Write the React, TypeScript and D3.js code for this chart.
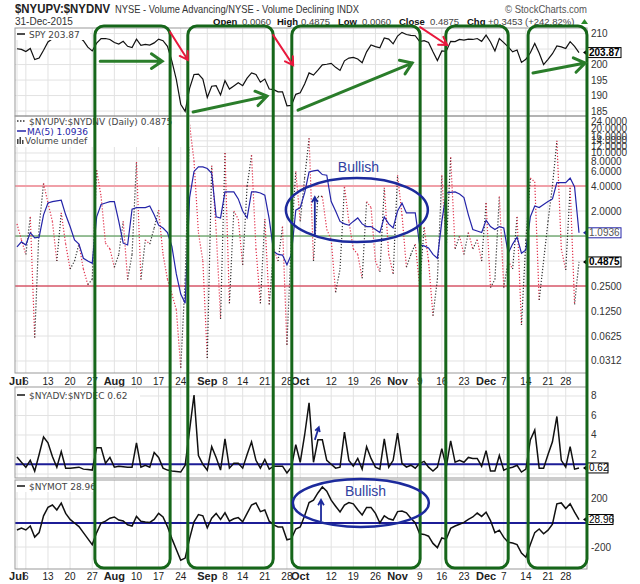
import React from "react";
import * as d3 from "d3";

// trading calendar (NYSE holidays in the window)
const holidays = ["2015-07-03", "2015-09-07", "2015-11-26", "2015-12-25"];
const fmt = d3.timeFormat("%Y-%m-%d");
const tradingDays = d3.timeDay
  .range(new Date(2015, 6, 1), new Date(2016, 0, 1))
  .filter((d) => d.getDay() !== 0 && d.getDay() !== 6 && !holidays.includes(fmt(d)))
  .map(fmt);

const tickDates = [
  "2015-07-01", "2015-07-06", "2015-07-13", "2015-07-20", "2015-07-27", "2015-08-03", "2015-08-10",
  "2015-08-17", "2015-08-24", "2015-09-01", "2015-09-08", "2015-09-14", "2015-09-21", "2015-09-28",
  "2015-10-01", "2015-10-12", "2015-10-19", "2015-10-26", "2015-11-02", "2015-11-09", "2015-11-16",
  "2015-11-23", "2015-12-01", "2015-12-07", "2015-12-14", "2015-12-21", "2015-12-28",
];
const tickLabels = [
  "Jul", "6", "13", "20", "27", "Aug", "10", "17", "24", "Sep", "8", "14", "21", "28",
  "Oct", "12", "19", "26", "Nov", "9", "16", "23", "Dec", "7", "14", "21", "28",
];
const monthLabels = ["Jul", "Aug", "Sep", "Oct", "Nov", "Dec"];

// SPY close
const spyClose = [
  205.1, 204.9, 204.2, 205.2, 201.6, 202.1, 204.6, 207.3, 208.3, 208.2,
  209.9, 210.1, 210.2, 209.3, 208.9, 207.7, 205.6, 204.4, 206.9, 208.4,
  208.4, 208.1, 207.1, 206.6, 207.5, 205.9, 205.5, 208.2, 206.2, 206.5,
  206.3, 207.0, 208.2, 207.7, 205.9, 201.1, 195.2, 187.2, 184.9, 192.3,
  196.8, 196.9, 195.3, 189.4, 193.0, 193.2, 190.2, 194.8, 192.1, 193.1,
  194.1, 193.2, 195.6, 197.3, 196.8, 194.3, 195.3, 192.1, 191.9, 191.2,
  191.2, 186.7, 186.8, 190.4, 190.9, 193.7, 197.3, 196.6, 198.2, 199.9,
  200.1, 200.4, 199.1, 198.1, 201.2, 202.1, 202.3, 201.8, 200.6, 204.1,
  206.3, 205.8, 205.4, 208.6, 208.2, 206.7, 209.2, 210.4, 209.7, 209.4,
  209.3, 207.4, 207.7, 207.1, 204.1, 201.3, 204.4, 204.3, 207.5, 207.4,
  208.1, 207.9, 208.2, 208.1, 208.4, 207.5, 209.5, 207.3, 204.4, 208.4,
  207.1, 205.7, 204.1, 204.7, 200.7, 201.7, 203.8, 206.8, 203.7, 200.0,
  201.7, 203.5, 206.0, 205.7, 205.2, 207.4, 205.9, 203.87,
];

// $NYUPV:$NYDNV daily
const upDownVol = [
  1.4, 0.9, 0.6, 1.7, 0.06, 1.3, 4.3, 2.5, 1.5, 0.5,
  1.9, 0.8, 0.4, 0.5, 0.8, 0.4, 0.26, 0.3, 6.2, 3.0,
  0.82, 0.7, 0.42, 0.6, 1.5, 0.3, 0.6, 7.8, 0.3, 0.9,
  0.8, 1.25, 2.05, 0.6, 0.3, 0.2, 0.13, 0.026, 0.3, 22,
  8, 1.1, 0.5, 0.034, 7, 1.2, 0.1, 10, 0.155, 2,
  1.6, 0.45, 4, 9.4, 0.7, 0.155, 1.6, 0.15, 0.7, 0.5,
  1.3, 0.049, 0.9, 6, 1.5, 5, 15, 0.5, 3, 3,
  1.2, 0.9, 0.21, 0.4, 3.9, 1.5, 0.7, 0.6, 0.31, 2.6,
  2.2, 0.5, 0.37, 3.8, 0.6, 0.35, 5.4, 1.8, 0.42, 0.6,
  0.8, 0.25, 1.28, 0.5, 0.11, 0.3, 5.4, 0.7, 8.9, 0.7,
  1.0, 0.6, 1.1, 0.7, 0.9, 0.5, 2.5, 0.24, 0.3, 3,
  0.24, 0.5, 0.4, 1.7, 0.085, 0.9, 5, 4.5, 0.17, 0.5,
  1.5, 4, 14, 0.7, 0.39, 3.8, 0.15, 0.4875,
];

// MA(5) of the ratio
const upDownMa5 = [
  0.74, 0.85, 0.78, 1.1, 0.95, 0.97, 1.8, 2.5, 2.6, 2.65,
  2.7, 1.8, 1.3, 0.9, 0.8, 0.54, 0.5, 0.47, 1.7, 2.4,
  2.5, 2.6, 2.6, 1.5, 0.82, 0.78, 2.1, 2.2, 2.2, 2.2,
  2.3, 1.8, 1.35, 1.25, 1.1, 0.75, 0.35, 0.2, 0.155, 2.9,
  6, 6.8, 6.8, 6.5, 5.7, 1.7, 1.65, 3.4, 3.4, 3.4,
  2.8, 2.0, 1.65, 3.4, 3.4, 3.3, 3.1, 1.6, 0.65, 0.6,
  0.59, 0.45, 0.6, 2.05, 2.2, 3.3, 5.9, 6.1, 6.2, 5.5,
  5.4, 2.6, 2.0, 1.5, 1.4, 1.35, 1.5, 1.65, 1.4, 1.3,
  1.3, 1.2, 1.1, 1.7, 1.4, 1.25, 2.0, 2.5, 1.9, 1.9,
  1.9, 0.78, 0.76, 0.72, 0.6, 0.54, 1.5, 3.3, 3.35, 3.4,
  3.2, 2.9, 1.8, 1.2, 1.15, 1.1, 1.55, 1.3, 1.2, 1.3,
  1.25, 0.62, 0.8, 0.97, 0.62, 0.68, 1.7, 2.3, 2.2, 2.4,
  2.6, 2.8, 4.4, 4.4, 4.4, 5, 3.9, 1.0936,
];

// $NYADV:$NYDEC
const advDec = [
  1.74, 1.2, 0.7, 1.4, 0.3, 2.0, 3.8, 3.2, 1.8, 0.7,
  2.3, 0.6, 0.6, 0.65, 0.7, 0.5, 0.45, 0.4, 2.7, 2.7,
  1.1, 1.7, 0.7, 0.8, 0.75, 0.7, 0.7, 3.2, 0.7, 0.9,
  0.7, 2.2, 1.7, 0.6, 0.4, 0.3, 0.25, 0.2, 0.9, 4.5,
  8.1, 1.9, 1.0, 0.4, 2.8, 1.7, 0.4, 3.6, 0.6, 1.1,
  1.1, 0.6, 2.0, 3.3, 1.4, 0.6, 1.5, 0.5, 0.8, 0.8,
  0.8, 0.1, 0.7, 3.0, 1.2, 4.0, 7.3, 1.2, 3.5, 3.5,
  1.4, 1.0, 0.6, 0.7, 4.3, 1.4, 0.8, 1.6, 0.5, 2.8,
  1.6, 0.7, 0.5, 3.6, 0.7, 1.4, 4.2, 1.1, 0.7, 0.9,
  0.6, 1.1, 1.3, 0.7, 0.3, 0.7, 2.6, 0.7, 3.4, 1.2,
  1.4, 1.2, 1.7, 1.6, 1.6, 0.8, 2.4, 0.3, 0.3, 1.9,
  0.4, 0.6, 0.7, 0.9, 0.2, 0.5, 3.5, 4.5, 0.6, 0.6,
  2.0, 3.3, 5.9, 1.4, 0.7, 2.8, 0.5, 0.62,
];

// $NYMOT
const mcOsc = [
  -58, -42, -58, -25, -117, -80, 60, 130, 150, 108,
  165, 80, 30, 0, -30, -80, -130, -180, -80, 0,
  15, 40, 50, 25, 17, -15, -25, 55, 15, 8,
  5, 30, 80, 50, -30, -130, -220, -310, -292, -130,
  10, 70, 60, -40, 40, 80, 30, 85, 15, 35,
  45, 10, 80, 150, 167, 95, 108, 15, -15, -33,
  -33, -140, -130, -50, -33, 60, 170, 190, 250, 300,
  265, 190, 140, 92, 150, 170, 160, 110, 67, 130,
  130, 80, 0, 60, 35, 25, 95, 100, 85, 40,
  0, -90, -95, -110, -170, -205, -125, -135, -45, -25,
  -10, 5, 30, 50, 83, 55, 90, 20, -80, -60,
  -120, -160, -167, -180, -250, -285, -180, -80, -50, -90,
  -60, -10, 160, 167, 120, 160, 90, 28.96,
];

// right-axis ticks (the ones not hidden behind the value boxes)
const spyTicks = [185, 190, 195, 200, 210];
const spyGrid = [185, 190, 195, 200, 205, 210];
const ratioTicks = [24, 20, 16, 14, 12, 10, 8, 6, 4, 2, 0.25, 0.125, 0.0625, 0.03125];
const ratioTickLabels = ["24.0000", "20.0000", "16.0000", "14.0000", "12.0000", "10.0000", "8.0000", "6.0000",
  "4.0000", "2.0000", "0.2500", "0.1250", "0.0625", "0.0312"];
const ratioGrid = [24, 20, 16, 14, 12, 10, 8, 6, 4, 2, 1, 0.5, 0.25, 0.125, 0.0625, 0.03125];
const advTicks = [2, 4, 6, 8];
const advGrid = [0, 2, 4, 6, 8];
const motTicks = [-200, 200];
const motGrid = [-200, 0, 200];

// annotations (date index / value space)
const boxSpans = [[17.6, 34.6], [38.6, 57.9], [62.1, 91.1], [96.9, 111], [115.5, 128.8]];
const greenArrows = [
  [[18.8, 201.1], [32.8, 201.1]],
  [[39.8, 184.7], [56.5, 189.8]],
  [[63.5, 185.3], [89.3, 200.5]],
  [[116.6, 197.3], [128.4, 200.5]],
];
const redArrows = [
  [[34.6, 210.5], [38.6, 201.5]],
  [[57.9, 209.5], [62.4, 199.8]],
  [[91.1, 212.1], [97.2, 206.3]],
];

const L = 15, R = 587;
const P1 = [28, 116], P2 = [116, 373], P3 = [387, 478], P4 = [480, 569];

function arrow(x1: number, y1: number, x2: number, y2: number, len: number, ang = 0.5) {
  const a = Math.atan2(y2 - y1, x2 - x1);
  const h1 = [x2 - len * Math.cos(a - ang), y2 - len * Math.sin(a - ang)];
  const h2 = [x2 - len * Math.cos(a + ang), y2 - len * Math.sin(a + ang)];
  return `M${x1},${y1}L${x2},${y2}M${h1[0]},${h1[1]}L${x2},${y2}L${h2[0]},${h2[1]}`;
}

export default function App() {
  const x = d3.scaleLinear().domain([0, tradingDays.length - 1]).range([17, 579]);
  const ySpy = d3.scaleLinear().domain([183.4, 211.8]).range([P1[1], P1[0]]);
  const yRatio = d3.scaleLog().base(2).domain([0.0224, 27.9]).range([P2[1], P2[0]]);
  const yAdv = d3.scaleLinear().domain([-0.41, 8.92]).range([P3[1], P3[0]]);
  const yMot = d3.scaleLinear().domain([-383, 358]).range([P4[1], P4[0]]);

  const lineOf = (ys: (v: number) => number) =>
    d3.line<number>().x((_, i) => x(i)).y((v) => ys(v));

  const tickX = tickDates.map((d) => x(tradingDays.indexOf(d)));
  const labelFont = "Liberation Sans, Arial, sans-serif";
  const legendFont = "DejaVu Sans, Verdana, sans-serif";

  const ratioSegs = upDownVol.slice(1).map((v, k) => ({
    x1: x(k), y1: yRatio(upDownVol[k]), x2: x(k + 1), y2: yRatio(v),
    up: v >= upDownVol[k],
  }));

  const panels = [P1, P2, P3, P4];

  const valueBox = (y: number, text: string, color: string, bold: boolean, w: number) => (
    <g key={text}>
      <path d={`M${R - 4},${y}L${R},${y - 3}L${R},${y + 3}Z`} fill={color} />
      <rect x={R} y={y - 5} width={w} height={10} fill="#fff" stroke={color} strokeWidth={1} />
      <text x={R + 2} y={y + 3.5} fontSize={10} fontWeight={bold ? "bold" : "normal"}
        fill={bold ? "#000" : color === "#000" ? "#000" : "#555"} fontFamily={labelFont}>{text}</text>
    </g>
  );

  const dateAxis = (yBase: number, key: string) => (
    <g key={key} fontFamily={labelFont} fontSize={10} fill="#222" textAnchor="middle">
      {tickLabels.map((t, i) => (
        <text key={i} x={tickX[i]} y={yBase} fontWeight={monthLabels.includes(t) ? "bold" : "normal"}
          fontSize={monthLabels.includes(t) ? 11 : 10}>{t}</text>
      ))}
    </g>
  );

  const header = [
    { t: "Open", x: 213, b: true }, { t: "0.0060", x: 242, b: false },
    { t: "High", x: 277, b: true }, { t: "0.4875", x: 301, b: false },
    { t: "Low", x: 338, b: true }, { t: "0.0060", x: 362, b: false },
    { t: "Close", x: 399, b: true }, { t: "0.4875", x: 430, b: false },
    { t: "Chg", x: 467, b: true }, { t: "+0.3453", x: 488, b: false },
    { t: "(+242.82%)", x: 525, b: false },
  ];

  return (
    <svg width={640} height={584} style={{ position: "absolute", left: 0, top: 0, background: "#fff" }}>
      <rect width={640} height={584} fill="#fff" />

      {/* header */}
      <text x={15} y={13} fontFamily={labelFont} fontSize={12} fontWeight="bold" fill="#222"
        textLength={95} lengthAdjust="spacingAndGlyphs">$NYUPV:$NYDNV</text>
      <text x={115} y={13} fontFamily={labelFont} fontSize={11} fill="#333"
        textLength={244} lengthAdjust="spacingAndGlyphs">NYSE - Volume Advancing/NYSE - Volume Declining INDX</text>
      <text x={505} y={13} fontFamily={labelFont} fontSize={11} fill="#555"
        textLength={82} lengthAdjust="spacingAndGlyphs">© StockCharts.com</text>
      <text x={15} y={25} fontFamily={labelFont} fontSize={10} fill="#333">31-Dec-2015</text>
      <g fontFamily={labelFont} fontSize={9.5} fill="#333">
        {header.map((h, i) => (
          <text key={i} x={h.x} y={25} fontWeight={h.b ? "bold" : "normal"} fill={h.b ? "#111" : "#444"}>{h.t}</text>
        ))}
      </g>
      <path d="M581,24L584.5,19L588,24Z" fill="#2a8a2a" />

      {/* panel backgrounds + grids */}
      {panels.map((p, i) => (
        <rect key={i} x={L} y={p[0]} width={R - L} height={p[1] - p[0]} fill="#fff" />
      ))}
      <g stroke="#e2e2e2" strokeWidth={1}>
        {panels.map((p, pi) => tickX.map((tx, i) => (
          <line key={`${pi}-${i}`} x1={tx} x2={tx} y1={p[0]} y2={p[1]} />
        )))}
        {spyGrid.map((t) => <line key={`s${t}`} x1={L} x2={R} y1={ySpy(t)} y2={ySpy(t)} />)}
        {ratioGrid.map((t) => <line key={`r${t}`} x1={L} x2={R} y1={yRatio(t)} y2={yRatio(t)} />)}
        {advGrid.map((t) => <line key={`a${t}`} x1={L} x2={R} y1={yAdv(t)} y2={yAdv(t)} />)}
        {motGrid.map((t) => <line key={`m${t}`} x1={L} x2={R} y1={yMot(t)} y2={yMot(t)} />)}
      </g>

      {/* reference lines */}
      <line x1={L} x2={R} y1={yRatio(4)} y2={yRatio(4)} stroke="#f0a0a8" strokeWidth={2} />
      <line x1={L} x2={R} y1={yRatio(1)} y2={yRatio(1)} stroke="#3c8c3c" strokeWidth={1} />
      <line x1={L} x2={R} y1={yRatio(0.25)} y2={yRatio(0.25)} stroke="#d0102a" strokeWidth={1} />
      <line x1={L} x2={R} y1={yAdv(1)} y2={yAdv(1)} stroke="#1c1c96" strokeWidth={1.8} />
      <line x1={L} x2={R} y1={yMot(0)} y2={yMot(0)} stroke="#1c1c96" strokeWidth={1.8} />

      {/* data */}
      <path d={lineOf(ySpy)(spyClose) ?? ""} fill="none" stroke="#111" strokeWidth={1.2} />
      {ratioSegs.map((s, i) => (
        <line key={i} x1={s.x1} y1={s.y1} x2={s.x2} y2={s.y2}
          stroke={s.up ? "#333" : "#e0304a"} strokeWidth={1.2} strokeDasharray="1.2,1.8" />
      ))}
      <path d={lineOf(yRatio)(upDownMa5) ?? ""} fill="none" stroke="#2424a8" strokeWidth={1.2} />
      <path d={lineOf(yAdv)(advDec) ?? ""} fill="none" stroke="#111" strokeWidth={1.5} />
      <path d={lineOf(yMot)(mcOsc) ?? ""} fill="none" stroke="#111" strokeWidth={1.5} />

      {/* legends */}
      <g fontFamily={legendFont} fontSize={9} fill="#444">
        <rect x={16} y={29} width={74} height={11} fill="#fff" />
        <line x1={17} x2={25} y1={34} y2={34} stroke="#111" strokeWidth={1.5} />
        <text x={29} y={37.5}>SPY 203.87</text>

        <rect x={16} y={117} width={174} height={30} fill="#fff" />
        <line x1={17} x2={26} y1={121} y2={121} stroke="#333" strokeWidth={1.5} strokeDasharray="1.5,1.5" />
        <text x={29} y={124.5}>$NYUPV:$NYDNV (Daily) 0.4875</text>
        <line x1={17} x2={26} y1={131} y2={131} stroke="#2424a8" strokeWidth={1.5} />
        <text x={27} y={134.5} fill="#2424a8">MA(5) 1.0936</text>
        <rect x={17} y={139} width={1.5} height={5} fill="#444" />
        <rect x={19.5} y={137} width={1.5} height={7} fill="#444" />
        <rect x={22} y={140} width={1.5} height={4} fill="#444" />
        <text x={25} y={144}>Volume undef</text>

        <rect x={16} y={389} width={124} height={11} fill="#fff" />
        <line x1={17} x2={25} y1={395} y2={395} stroke="#111" strokeWidth={1.5} />
        <text x={29} y={398.5}>$NYADV:$NYDEC 0.62</text>

        <rect x={16} y={481} width={90} height={11} fill="#fff" />
        <line x1={17} x2={25} y1={486} y2={486} stroke="#111" strokeWidth={1.5} />
        <text x={29} y={489.5}>$NYMOT 28.96</text>
      </g>

      {/* right axes */}
      <g fontFamily={labelFont} fontSize={10} fill="#333">
        {spyTicks.map((t) => <text key={t} x={591} y={ySpy(t) + 3.5}>{t}</text>)}
        {ratioTicks.map((t, i) => <text key={t} x={591} y={yRatio(t) + 3.5}>{ratioTickLabels[i]}</text>)}
        {advTicks.map((t) => <text key={t} x={591} y={yAdv(t) + 3.5}>{t}</text>)}
        {motTicks.map((t) => <text key={t} x={591} y={yMot(t) + 3.5}>{t}</text>)}
      </g>
      {valueBox(ySpy(203.87), "203.87", "#000", true, 34)}
      {valueBox(yRatio(1.0936), "1.0936", "#2424a8", false, 34)}
      {valueBox(yRatio(0.4875), "0.4875", "#000", true, 34)}
      {valueBox(yAdv(0.62), "0.62", "#000", false, 21)}
      {valueBox(yMot(28.96), "28.96", "#000", false, 26)}

      {dateAxis(385, "top")}
      {dateAxis(580, "bottom")}

      {/* panel borders */}
      {panels.map((p, i) => (
        <rect key={i} x={L} y={p[0]} width={R - L} height={p[1] - p[0]} fill="none" stroke="#999" strokeWidth={1} />
      ))}

      {/* annotations */}
      {boxSpans.map(([a, b], i) => (
        <rect key={i} x={x(a)} y={26} width={x(b) - x(a)} height={568 - 26} rx={9}
          fill="none" stroke="#16661a" strokeWidth={3} />
      ))}
      {greenArrows.map(([p, q], i) => (
        <path key={i} d={arrow(x(p[0]), ySpy(p[1]), x(q[0]), ySpy(q[1]), 13, 0.6)}
          fill="none" stroke="#2a7d2a" strokeWidth={3} strokeLinecap="round" />
      ))}
      {redArrows.map(([p, q], i) => (
        <path key={i} d={arrow(x(p[0]), ySpy(p[1]), x(q[0]), ySpy(q[1]), 9, 0.55)}
          fill="none" stroke="#e8183c" strokeWidth={2} strokeLinecap="round" />
      ))}
      <ellipse cx={x(76.8)} cy={yRatio(2.06)} rx={71} ry={32} fill="none" stroke="#1c2a9c" strokeWidth={2.5} />
      <ellipse cx={x(77.7)} cy={yMot(167)} rx={68} ry={24} fill="none" stroke="#1c2a9c" strokeWidth={2.5} />
      <text x={x(72.5)} y={yRatio(5.9)} fontFamily={labelFont} fontSize={14} fill="#3040a0">Bullish</text>
      <text x={x(74.1)} y={yMot(225)} fontFamily={labelFont} fontSize={14} fill="#3040a0">Bullish</text>
      <path d={arrow(x(67.3), yRatio(0.97), x(67.3), yRatio(2.95), 6, 0.5)} fill="none" stroke="#1c2a9c" strokeWidth={1.8} />
      <path d={arrow(x(67.3), yAdv(3.5), x(68.2), yAdv(4.8), 5, 0.5)} fill="none" stroke="#1c2a9c" strokeWidth={1.8} />
      <path d={arrow(x(68.7), yMot(17), x(68.7), yMot(192), 6, 0.5)} fill="none" stroke="#1c2a9c" strokeWidth={1.8} />
    </svg>
  );
}
